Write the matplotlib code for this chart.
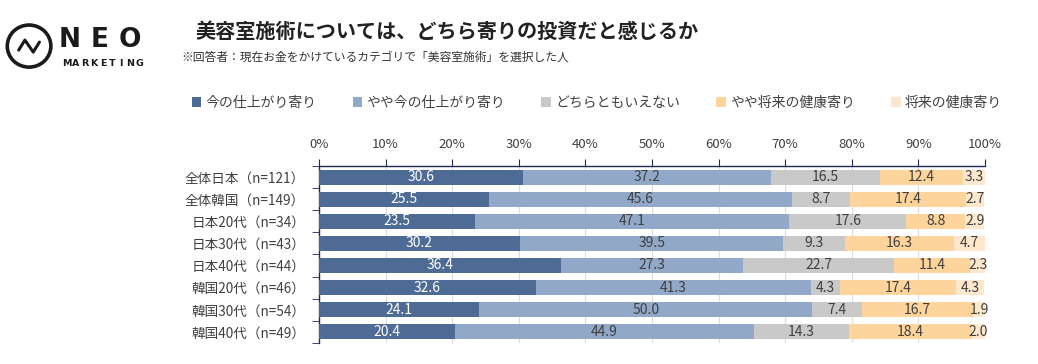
import matplotlib; matplotlib.use('Agg')
import matplotlib.pyplot as plt
import numpy as np
from matplotlib.patches import Circle

plt.rcParams['font.family'] = ['Noto Sans CJK JP', 'DejaVu Sans']

categories = ['全体日本（n=121）', '全体韓国（n=149）', '日本20代（n=34）', '日本30代（n=43）',
              '日本40代（n=44）', '韓国20代（n=46）', '韓国30代（n=54）', '韓国40代（n=49）']
series_names = ['今の仕上がり寄り', 'やや今の仕上がり寄り', 'どちらともいえない', 'やや将来の健康寄り', '将来の健康寄り']
ima = [30.6, 25.5, 23.5, 30.2, 36.4, 32.6, 24.1, 20.4]
yaya_ima = [37.2, 45.6, 47.1, 39.5, 27.3, 41.3, 50.0, 44.9]
dochira = [16.5, 8.7, 17.6, 9.3, 22.7, 4.3, 7.4, 14.3]
yaya_shorai = [12.4, 17.4, 8.8, 16.3, 11.4, 17.4, 16.7, 18.4]
shorai = [3.3, 2.7, 2.9, 4.7, 2.3, 4.3, 1.9, 2.0]
values = [ima, yaya_ima, dochira, yaya_shorai, shorai]
colors = ['#4d6b94', '#91a8c8', '#c9c9c9', '#fdd49c', '#fde8cd']
txt_colors = ['white', '#404040', '#404040', '#404040', '#404040']
NAVY = '#1f2a55'

fig = plt.figure(figsize=(10.38, 3.64), dpi=100)
ax = fig.add_axes([0.3073, 0.058, 0.6416, 0.486])

y = np.arange(len(categories))
left = np.zeros(len(categories))
for vals, c, tc, name in zip(values, colors, txt_colors, series_names):
    vals = np.array(vals)
    ax.barh(y, vals, left=left, height=0.68, color=c, label=name, zorder=3)
    for yi, l, v in zip(y, left, vals):
        ax.text(l + v / 2, yi, f'{v:.1f}', ha='center', va='center', fontsize=10,
                color=tc, zorder=4)
    left += vals

ax.set_xlim(0, 100)
ax.set_ylim(len(categories) - 0.5, -0.5)
ax.set_xticks(np.arange(0, 101, 10))
ax.set_xticklabels([f'{t}%' for t in range(0, 101, 10)], fontsize=9.5, color='#404040')
ax.xaxis.tick_top()
ax.tick_params(axis='x', length=5, color=NAVY, pad=6, direction='out')
ax.set_yticks(y)
ax.set_yticklabels(categories, fontsize=9.8, color='#404040')
ax.set_yticks(np.arange(-0.5, len(categories), 1), minor=True)
ax.tick_params(axis='y', which='major', length=0, pad=10)
ax.tick_params(axis='y', which='minor', length=5, color=NAVY)
ax.grid(axis='x', color='#dcdcdc', lw=0.8, zorder=0)
for s in ['right', 'bottom']:
    ax.spines[s].set_visible(False)
for s in ['top', 'left']:
    ax.spines[s].set_color(NAVY)
    ax.spines[s].set_linewidth(1.0)

# legend
handles, labels = ax.get_legend_handles_labels()
fig.legend(handles, labels, loc='center', bbox_to_anchor=(0.575, 0.717), ncol=5,
           frameon=False, fontsize=10, handlelength=0.7, handleheight=0.7,
           handletextpad=0.3, columnspacing=2.6, labelcolor='#404040')

# titles
fig.text(0.188, 0.915, '美容室施術については、どちら寄りの投資だと感じるか', fontsize=14.5,
         fontweight='bold', color='#222222', va='center')
fig.text(0.175, 0.843, '※回答者：現在お金をかけているカテゴリで「美容室施術」を選択した人', fontsize=8.5,
         color='#333333', va='center')

# logo
lax = fig.add_axes([0, 0.7, 0.16, 0.3])
lax.set_xlim(0, 160); lax.set_ylim(109, 0); lax.axis('off')
lax.add_patch(Circle((28, 46), 21, fill=False, ec='#1a1a1a', lw=2.6))
lax.plot([18, 24, 32, 38], [50, 40, 52, 42], color='#1a1a1a', lw=2.2,
         solid_capstyle='round', solid_joinstyle='round')
for i, ch in enumerate('NEO'):
    lax.text(67 + i * 29, 40, ch, fontsize=19, fontweight='bold', color='#1a1a1a',
             ha='center', va='center', family='DejaVu Sans')
for i, ch in enumerate('MARKETING'):
    lax.text(64 + i * 8.8, 63, ch, fontsize=6.8, fontweight='bold', color='#1a1a1a',
             ha='center', va='center', family='DejaVu Sans')

fig.savefig('out.png', dpi=100)
